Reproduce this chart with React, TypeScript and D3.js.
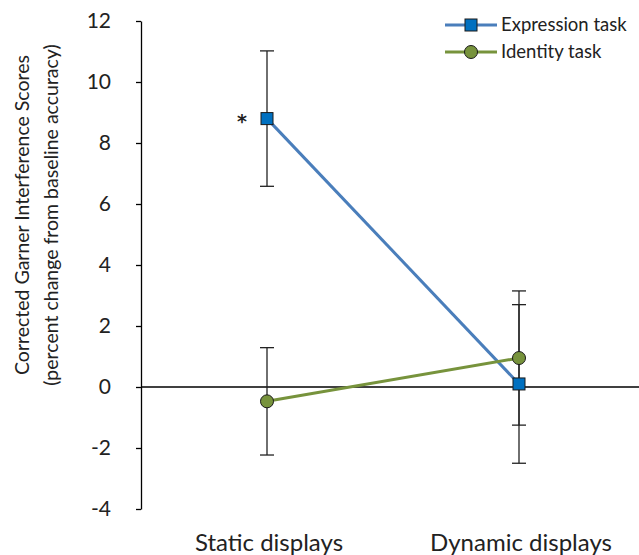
import * as d3 from 'd3';
import { useEffect, useRef } from 'react';

const categories = ['Static displays', 'Dynamic displays'];
const seriesNames = ['Expression task', 'Identity task'];
const expressionMeans = [8.8, 0.1];
const expressionErrors = [2.22, 2.6];
const identityMeans = [-0.47, 0.95];
const identityErrors = [1.76, 2.2];
const yTicks = [-4, -2, 0, 2, 4, 6, 8, 10, 12];
const significance = ['*', ''];

const FONT = "Lato, 'Open Sans', sans-serif";

export default function App() {
  const svgRef = useRef<SVGSVGElement>(null);

  useEffect(() => {
    if (!svgRef.current) return;
    const svg = d3.select(svgRef.current);
    svg.selectAll('*').remove();

    const W = 639;
    const left = 141;

    const x = d3.scaleBand().domain(categories).range([left, 645]);
    const y = d3.scaleLinear().domain([-4, 12]).range([509, 21]);
    const cx = (c: string) => (x(c) as number) + x.bandwidth() / 2;

    // y axis
    const yAxis = svg
      .append('g')
      .attr('transform', `translate(${left},0)`)
      .call(
        d3
          .axisLeft(y)
          .tickValues(yTicks)
          .tickFormat((d) => String(d))
          .tickSize(5)
          .tickSizeOuter(0)
          .tickPadding(25)
      );
    yAxis.select('.domain').attr('stroke', '#000').attr('stroke-width', 1.3);
    yAxis.selectAll('.tick line').attr('stroke', '#000').attr('stroke-width', 1.3);
    yAxis
      .selectAll('.tick text')
      .attr('font-family', FONT)
      .attr('font-size', 21)
      .attr('fill', '#222');

    // zero line
    svg
      .append('line')
      .attr('x1', left)
      .attr('x2', W)
      .attr('y1', y(0))
      .attr('y2', y(0))
      .attr('stroke', '#000')
      .attr('stroke-width', 1.3);

    // category labels
    svg
      .selectAll('text.cat')
      .data(categories)
      .join('text')
      .attr('class', 'cat')
      .attr('x', (d) => cx(d) + 2)
      .attr('y', 551)
      .attr('text-anchor', 'middle')
      .attr('font-family', FONT)
      .attr('font-size', 24)
      .attr('fill', '#222')
      .text((d) => d);

    // y title
    const title = svg
      .append('text')
      .attr('transform', `translate(0,215) rotate(-90)`)
      .attr('text-anchor', 'middle')
      .attr('font-family', FONT)
      .attr('font-size', 19.5)
      .attr('fill', '#222');
    title.append('tspan').attr('x', 0).attr('y', 29).text('Corrected Garner Interference Scores');
    title.append('tspan').attr('x', 0).attr('y', 58).text('(percent change from baseline accuracy)');

    const series = [
      { name: seriesNames[0], means: expressionMeans, errs: expressionErrors, line: '#4A7EBB', fill: '#0070C0', shape: 'square' },
      { name: seriesNames[1], means: identityMeans, errs: identityErrors, line: '#77933C', fill: '#77933C', shape: 'circle' },
    ];

    // error bars
    series.forEach((s) => {
      categories.forEach((c, i) => {
        const g = svg.append('g').attr('stroke', '#222').attr('stroke-width', 1.3);
        const hi = y(s.means[i] + s.errs[i]);
        const lo = y(s.means[i] - s.errs[i]);
        g.append('line').attr('x1', cx(c)).attr('x2', cx(c)).attr('y1', hi).attr('y2', lo);
        [hi, lo].forEach((yy) =>
          g.append('line').attr('x1', cx(c) - 7).attr('x2', cx(c) + 7).attr('y1', yy).attr('y2', yy)
        );
      });
    });

    const line = d3
      .line<number>()
      .x((_, i) => cx(categories[i]))
      .y((d) => y(d));

    series.forEach((s) => {
      svg
        .append('path')
        .attr('d', line(s.means))
        .attr('fill', 'none')
        .attr('stroke', s.line)
        .attr('stroke-width', 3);
    });

    const drawMarker = (sel: any, shape: string, fill: string, px: number, py: number) => {
      if (shape === 'square') {
        sel
          .append('rect')
          .attr('x', px - 6)
          .attr('y', py - 6)
          .attr('width', 12)
          .attr('height', 12)
          .attr('fill', fill)
          .attr('stroke', '#1a1a1a')
          .attr('stroke-width', 1);
      } else {
        sel
          .append('circle')
          .attr('cx', px)
          .attr('cy', py)
          .attr('r', 6.5)
          .attr('fill', fill)
          .attr('stroke', '#1a1a1a')
          .attr('stroke-width', 1);
      }
    };

    series.forEach((s) => {
      s.means.forEach((m, i) => drawMarker(svg, s.shape, s.fill, cx(categories[i]), y(m)));
    });

    // significance marks
    svg
      .selectAll('text.sig')
      .data(significance)
      .join('text')
      .attr('class', 'sig')
      .attr('x', (_, i) => cx(categories[i]) - 25)
      .attr('y', y(expressionMeans[0]) + 9)
      .attr('text-anchor', 'middle')
      .attr('font-family', "'DejaVu Sans', sans-serif")
      .attr('font-weight', 'bold')
      .attr('font-size', 19)
      .attr('fill', '#222')
      .text((d) => d);

    // legend
    const legend = svg.append('g');
    series.forEach((s, i) => {
      const ly = 25 + i * 27;
      legend
        .append('line')
        .attr('x1', 445)
        .attr('x2', 497)
        .attr('y1', ly)
        .attr('y2', ly)
        .attr('stroke', s.line)
        .attr('stroke-width', 3);
      drawMarker(legend, s.shape, s.fill, 471, ly);
      legend
        .append('text')
        .attr('x', 501)
        .attr('y', ly + 6)
        .attr('font-family', FONT)
        .attr('font-size', 18.5)
        .attr('fill', '#222')
        .text(s.name);
    });
  }, []);

  return (
    <svg
      ref={svgRef}
      width={639}
      height={555}
      style={{ position: 'absolute', left: 0, top: 0, background: '#fff' }}
    />
  );
}
